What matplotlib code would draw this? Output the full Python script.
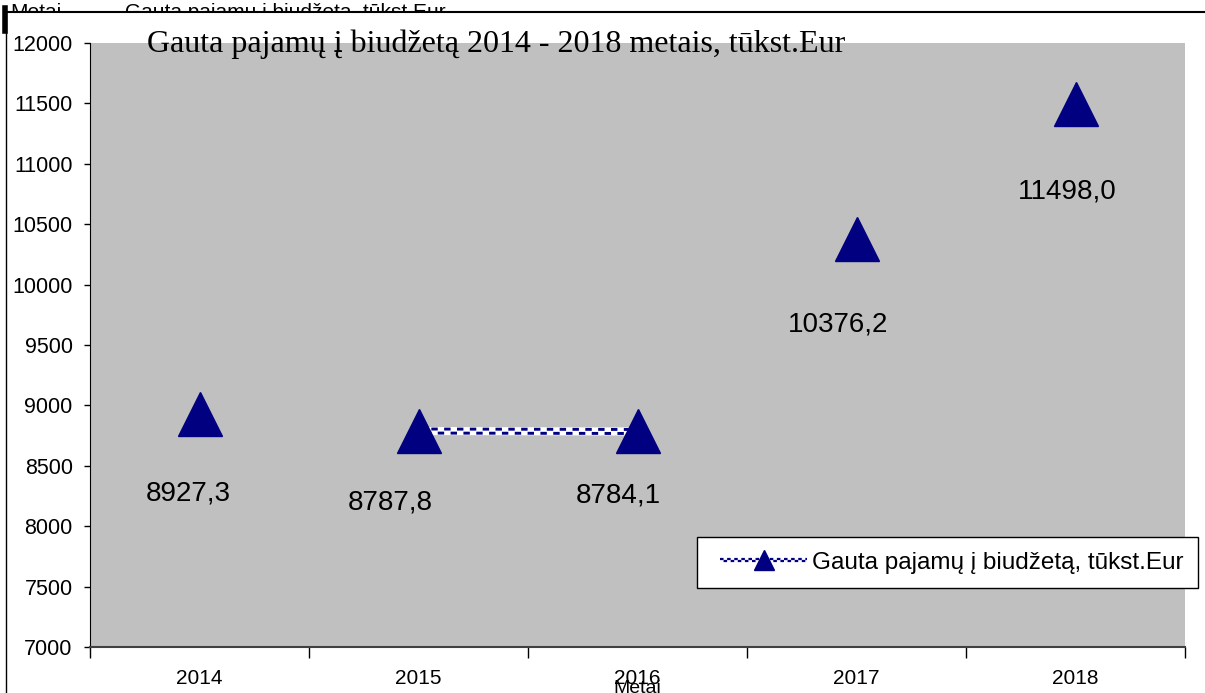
import matplotlib
matplotlib.use("Agg")
import matplotlib.pyplot as plt
import matplotlib.transforms as mtransforms
from matplotlib.lines import Line2D
from matplotlib.legend_handler import HandlerBase

# ---- data ----
years = ["2014", "2015", "2016", "2017", "2018"]
values = [8927.3, 8787.8, 8784.1, 10376.2, 11498.0]
value_labels = ["8927,3", "8787,8", "8784,1", "10376,2", "11498,0"]
y_ticks = [7000, 7500, 8000, 8500, 9000, 9500, 10000, 10500, 11000, 11500, 12000]
title = "Gauta pajamų į biudžetą 2014 - 2018 metais, tūkst.Eur"
series_name = "Gauta pajamų į biudžetą, tūkst.Eur"
x_label = "Metai"

# label placement offsets (pixels, dx, dy) -- style only
label_offsets_px = [(-11, -79), (-28, -71), (-19, -64), (-18, -85), (-8, -88)]

NAVY = "#000080"
GRAY = "#C0C0C0"

plt.rcParams['font.family'] = ['Liberation Sans', 'DejaVu Sans']

W, H = 1205, 693
fig = plt.figure(figsize=(W / 100, H / 100), dpi=100)
fig.patch.set_facecolor("white")

ax = fig.add_axes([90 / W, (H - 647) / H, (1185 - 90) / W, (647 - 43) / H])
ax.set_zorder(2)
ax.set_facecolor(GRAY)
ax.set_xlim(-0.5, len(years) - 0.5)
ax.set_ylim(7000, 12000)
ax.set_yticks(y_ticks)
ax.set_yticklabels([str(v) for v in y_ticks], fontsize=15.5)
ax.tick_params(axis="y", length=4.5, width=1, pad=8, direction="out")

xs = list(range(len(years)))
ax.set_xticks(xs)
ax.set_xticklabels(years, fontsize=15)
ax.tick_params(axis="x", which="major", length=0, pad=16)
ax.set_xticks([i - 0.5 for i in range(len(years) + 1)], minor=True)
ax.tick_params(axis="x", which="minor", length=8, width=1, direction="out")

for s in ["top", "right"]:
    ax.spines[s].set_visible(False)
ax.spines["left"].set_color("black")
ax.spines["bottom"].set_color("#404040")
ax.spines["bottom"].set_linewidth(1.5)

# checkered connecting line (only segment 2015-2016 visible)
seg_x = xs[1:3]
seg_y = values[1:3]
ax.plot(seg_x, seg_y, color="white", lw=5.8, solid_capstyle="butt", zorder=2)
up = mtransforms.offset_copy(ax.transData, fig=fig, x=0, y=1.45, units="points")
dn = mtransforms.offset_copy(ax.transData, fig=fig, x=0, y=-1.45, units="points")
ax.plot(seg_x, seg_y, color=NAVY, lw=2.1, transform=up, zorder=3,
        dash_capstyle="butt", linestyle=(0, (2.2, 2.2)))
ax.plot(seg_x, seg_y, color=NAVY, lw=2.1, transform=dn, zorder=3,
        dash_capstyle="butt", linestyle=(2.2, (2.2, 2.2)))

# markers
ax.plot(xs, values, linestyle="none", marker="^", ms=31, color=NAVY,
        markeredgecolor=NAVY, zorder=4)

# value labels below points
for x, v, lab, (dx, dy) in zip(xs, values, value_labels, label_offsets_px):
    ax.annotate(lab, (x, v), xytext=(dx * 0.72, dy * 0.72), textcoords="offset points",
                ha="center", va="center", fontsize=20, color="black", zorder=5)

# title
fig.text(147 / W, 1 - 52 / H, title, fontsize=23, family="Liberation Serif",
         ha="left", va="baseline", zorder=3)

# x label (clipped at bottom, as in the original)
fig.text(637 / W, 1 - 693 / H, x_label, fontsize=14, ha="center", va="baseline",
         zorder=3)


# legend with checkered line handle
class CheckerHandler(HandlerBase):
    def create_artists(self, legend, orig_handle, xdescent, ydescent, width,
                       height, fontsize, trans):
        inset = 6.0
        x0 = -xdescent + inset
        x1 = -xdescent + width
        y = height / 2 - ydescent
        base = Line2D([x0, x1], [y, y], color="white", lw=4.5,
                      solid_capstyle="butt", transform=trans)
        r1 = Line2D([x0, x1], [y + 1.0, y + 1.0], color=NAVY, lw=1.6,
                    linestyle=(0, (1.6, 1.6)), dash_capstyle="butt", transform=trans)
        r2 = Line2D([x0, x1], [y - 1.0, y - 1.0], color=NAVY, lw=1.6,
                    linestyle=(1.6, (1.6, 1.6)), dash_capstyle="butt", transform=trans)
        mk = Line2D([(x0 + x1) / 2], [y], color=NAVY, linestyle="none",
                    marker="^", ms=14, transform=trans)
        return [base, r1, r2, mk]


h = Line2D([], [], color=NAVY)
leg = ax.legend([h], [series_name], handler_map={Line2D: CheckerHandler()},
                loc="upper left", bbox_to_anchor=(697 / W, 1 - 537 / H),
                bbox_transform=fig.transFigure, fontsize=17.5, frameon=True,
                fancybox=False, framealpha=1, edgecolor="black",
                handlelength=3.94, handletextpad=0.2, borderpad=0.6,
                borderaxespad=0)
leg.get_frame().set_linewidth(1)

# frame remnants at the top/left of the original page
fig.text(10 / W, 1 - 18 / H, "Metai", fontsize=15, ha="left", va="baseline",
         zorder=0)
fig.text(125 / W, 1 - 18 / H, series_name, fontsize=15, ha="left",
         va="baseline", zorder=0)
fig.patches.append(plt.Rectangle((0, 0), 1, 1 - 12 / H, transform=fig.transFigure,
                                 facecolor="white", edgecolor="none", zorder=0.5))
fig.lines.append(Line2D([5 / W, 1], [1 - 12 / H, 1 - 12 / H], color="black", lw=1.5,
                        transform=fig.transFigure, zorder=1))
fig.lines.append(Line2D([5.5 / W, 5.5 / W], [0, 1 - 12 / H], color="black", lw=1,
                        transform=fig.transFigure, zorder=1))
fig.lines.append(Line2D([4.5 / W, 4.5 / W], [1 - 8 / H, 1 - 31 / H], color="black", lw=4,
                        transform=fig.transFigure, zorder=1))

fig.savefig("out.png", dpi=100)
